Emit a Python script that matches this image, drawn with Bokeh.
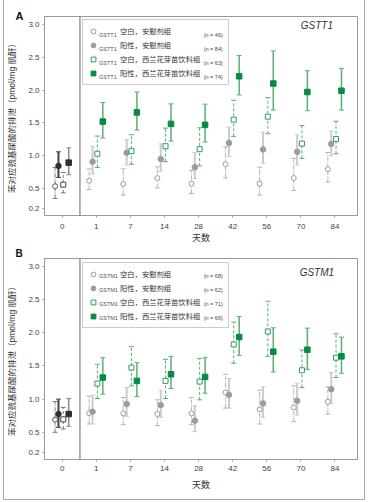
import numpy as np
from bokeh.plotting import figure
from bokeh.models import (Range1d, FixedTicker, Span, Label, Legend, LegendItem,
                          PrintfTickFormatter, Title)
from bokeh.layouts import column
from bokeh.embed import file_html
from bokeh.resources import INLINE
from bokeh.core.properties import value

# ---------------- data ----------------
days = ["0", "1", "7", "14", "28", "42", "56", "70", "84"]
y_ticks = [0.2, 0.5, 1.0, 1.5, 2.0, 2.5, 3.0]
group_names = ["空白，安慰剂组", "阳性，安慰剂组", "空白，西兰花芽苗饮料组", "阳性，西兰花芽苗饮料组"]

# Panel A: GSTT1
a_null_pl = [0.535, 0.62, 0.57, 0.66, 0.575, 0.87, 0.575, 0.66, 0.795]
a_null_pl_lo = [0.35, 0.485, 0.40, 0.51, 0.425, 0.66, 0.40, 0.47, 0.60]
a_null_pl_hi = [0.82, 0.80, 0.80, 0.83, 0.775, 1.135, 0.825, 0.96, 1.05]
a_pos_pl = [0.845, 0.91, 1.045, 0.95, 0.825, 1.195, 1.095, 1.06, 1.18]
a_pos_pl_lo = [0.67, 0.72, 0.86, 0.765, 0.65, 0.985, 0.885, 0.86, 1.00]
a_pos_pl_hi = [1.06, 1.145, 1.25, 1.18, 1.05, 1.435, 1.36, 1.32, 1.375]
a_null_bsp = [0.56, 1.03, 1.07, 1.145, 1.10, 1.55, 1.595, 1.185, 1.255]
a_null_bsp_lo = [0.435, 0.82, 0.87, 0.91, 0.845, 1.295, 1.335, 0.96, 1.03]
a_null_bsp_hi = [0.745, 1.30, 1.32, 1.42, 1.425, 1.845, 1.885, 1.46, 1.525]
a_pos_bsp = [0.895, 1.52, 1.66, 1.485, 1.47, 2.21, 2.10, 1.97, 1.99]
a_pos_bsp_lo = [0.71, 1.27, 1.39, 1.225, 1.21, 1.925, 1.695, 1.685, 1.695]
a_pos_bsp_hi = [1.12, 1.81, 1.97, 1.79, 1.785, 2.525, 2.595, 2.295, 2.33]
a_n = [46, 84, 63, 74]

# Panel B: GSTM1
b_null_pl = [0.69, 0.79, 0.785, 0.775, 0.785, 1.10, 0.845, 0.875, 0.96]
b_null_pl_lo = [0.50, 0.625, 0.615, 0.60, 0.615, 0.865, 0.625, 0.66, 0.775]
b_null_pl_hi = [0.965, 1.045, 1.025, 0.99, 1.025, 1.375, 1.135, 1.20, 1.185]
b_pos_pl = [0.775, 0.81, 0.925, 0.91, 0.675, 1.065, 0.935, 0.975, 1.15]
b_pos_pl_lo = [0.575, 0.625, 0.74, 0.725, 0.51, 0.865, 0.725, 0.76, 0.935]
b_pos_pl_hi = [1.0, 1.06, 1.175, 1.135, 0.90, 1.31, 1.185, 1.24, 1.40]
b_null_bsp = [0.695, 1.235, 1.475, 1.275, 1.265, 1.825, 2.02, 1.435, 1.625]
b_null_bsp_lo = [0.55, 1.01, 1.20, 1.01, 0.99, 1.54, 1.645, 1.175, 1.325]
b_null_bsp_hi = [0.875, 1.525, 1.79, 1.60, 1.615, 2.16, 2.475, 1.74, 1.985]
b_pos_bsp = [0.775, 1.325, 1.275, 1.375, 1.335, 1.935, 1.715, 1.745, 1.645]
b_pos_bsp_lo = [0.59, 1.075, 1.04, 1.16, 1.09, 1.66, 1.41, 1.45, 1.39]
b_pos_bsp_hi = [1.01, 1.625, 1.55, 1.645, 1.625, 2.245, 2.075, 2.07, 1.935]
b_n = [68, 62, 71, 66]

# ---------------- styling ----------------
FONT = "'Liberation Sans', 'Noto Sans CJK SC', sans-serif"
X0, X1 = -0.52, 8.66
Y0, Y1 = 0.09, 3.12
FW, FH = 316, 202
PX = FW / (X1 - X0)
PY = FH / (Y1 - Y0)


def dx(px):
    return X0 + px / PX


def dy(px):
    return Y1 - px / PY


STYLES = [
    dict(marker="circle", size=5, fill="white", line="#9c9c9c", bar="#b5b5b5", bw=1, dash="4 1 1 1", off=-0.21,
         fill0="white", line0="#555555", bar0="#7a7a7a"),
    dict(marker="circle", size=5.5, fill="#9c9c9c", line="#9c9c9c", bar="#cccccc", bw=2, dash="solid", off=-0.11,
         fill0="#2e2e2e", line0="#2e2e2e", bar0="#444444"),
    dict(marker="square", size=5, fill="white", line="#2f9e5c", bar="#53b276", bw=1, dash="3 2", off=0.03,
         fill0="white", line0="#444444", bar0="#7a7a7a"),
    dict(marker="square", size=5.5, fill="#078a43", line="#078a43", bar="#5cae78", bw=1.5, dash="solid", off=0.19,
         fill0="#2e2e2e", line0="#2e2e2e", bar0="#8a8a8a"),
]

LEG_PAD, LEG_GW, LEG_GH, LEG_STAND, LEG_LW = 4, 12, 14, 21, 104
LEG_H = 2 * LEG_PAD + 4 * LEG_GH
CONTENT_W = 362          # figure width (inside the css borders)
FRAME_LEFT = 37          # frame left inside the figure (page x 41)


def make_panel(gene, series, ns, height, top, bottom, legend_top, title_off, letter, letter_size,
               letter_standoff, xtick_standoff, xlab_standoff, styles_css):
    p = figure(width=CONTENT_W, height=height, x_range=Range1d(X0, X1), y_range=Range1d(Y0, Y1),
               output_backend="svg", toolbar_location=None,
               min_border_left=FRAME_LEFT, min_border_right=CONTENT_W - FRAME_LEFT - FW,
               min_border_top=top, min_border_bottom=bottom)
    p.styles = styles_css
    p.grid.visible = False
    p.outline_line_color = "#9a9a9a"
    p.background_fill_color = "white"
    p.border_fill_color = "white"

    for ax in (p.xaxis[0], p.yaxis[0]):
        ax.axis_line_color = "#9a9a9a"
        ax.major_tick_line_color = "#9a9a9a"
        ax.major_tick_out = 2
        ax.major_tick_in = 0
        ax.minor_tick_line_color = None
        ax.major_label_text_font_size = "8px"
        ax.major_label_text_color = "#444444"
        ax.major_label_text_font = FONT
        ax.axis_label_text_font = FONT
        ax.axis_label_text_font_size = "8.5px"
        ax.axis_label_text_font_style = "normal"
        ax.axis_label_text_color = "#333333"
    p.yaxis.ticker = FixedTicker(ticks=y_ticks)
    p.yaxis.formatter = PrintfTickFormatter(format="%.1f")
    p.yaxis.major_label_standoff = 3
    p.yaxis.axis_label_standoff = 8
    p.yaxis.axis_label = "苯对应巯基尿酸的排泄（pmol/mg 肌酐）"
    p.xaxis.ticker = FixedTicker(ticks=list(range(len(days))))
    p.xaxis.major_label_overrides = {i: d for i, d in enumerate(days)}
    p.xaxis.major_label_standoff = xtick_standoff
    p.xaxis.axis_label_standoff = xlab_standoff
    p.xaxis.axis_label = "天数"
    p.xaxis.axis_label_text_font_size = "9px"

    p.add_layout(Title(text=letter, align="left", offset=-(FRAME_LEFT - 8), standoff=letter_standoff,
                       text_font=FONT, text_font_size=letter_size, text_font_style="bold",
                       text_color="#111111"), "above")

    p.add_layout(Span(location=0.52, dimension="height", line_color="#666666", line_width=1))

    base = np.arange(len(days), dtype=float)
    marker_renderers = []
    for st, (m, lo, hi) in zip(STYLES, series):
        m, lo, hi = np.asarray(m), np.asarray(lo), np.asarray(hi)
        x = base + st["off"]
        for sel, is0 in ((slice(0, 1), True), (slice(1, None), False)):
            bar = st["bar0"] if is0 else st["bar"]
            p.segment(x0=x[sel], y0=lo[sel], x1=x[sel], y1=hi[sel], line_color=bar,
                      line_width=st["bw"], line_dash=st["dash"])
            p.scatter(x=np.concatenate([x[sel], x[sel]]), y=np.concatenate([lo[sel], hi[sel]]),
                      marker="dash", size=5, line_color=bar, line_width=1)
    for st, (m, lo, hi) in zip(STYLES, series):
        m = np.asarray(m)
        x = base + st["off"]
        p.scatter(x=x[:1], y=m[:1], marker=st["marker"], size=st["size"],
                  fill_color=st["fill0"], line_color=st["line0"], line_width=1)
        r = p.scatter(x=x[1:], y=m[1:], marker=st["marker"], size=st["size"],
                      fill_color=st["fill"], line_color=st["line"], line_width=1)
        marker_renderers.append(r)

    legend = Legend(items=[LegendItem(label=value(g), renderers=[r]) for g, r in zip(group_names, marker_renderers)],
                    location=(38, FH - legend_top - LEG_H),
                    label_text_font=FONT, label_text_font_size="7.3px", label_text_color="#333333",
                    glyph_width=LEG_GW, glyph_height=LEG_GH, label_height=LEG_GH, label_width=LEG_LW,
                    label_standoff=LEG_STAND, padding=LEG_PAD, spacing=0, margin=0,
                    border_line_color="#9a9a9a", border_line_width=1,
                    background_fill_alpha=0.0)
    p.add_layout(legend)

    for i, n in enumerate(ns):
        yy = dy(legend_top + LEG_PAD + LEG_GH / 2 + LEG_GH * i)
        p.add_layout(Label(x=dx(38 + LEG_PAD + LEG_GW + 1), y=yy, text=gene, text_baseline="middle",
                           text_font=FONT, text_font_size="5.5px", text_color="#555555", level="overlay"))
        p.add_layout(Label(x=dx(180), y=yy, text=f"(n = {n})", text_align="right", text_baseline="middle",
                           text_font=FONT, text_font_size="5.5px", text_color="#444444", level="overlay"))

    p.add_layout(Label(x=dx(275), y=dy(title_off), text=gene, text_align="center", text_baseline="middle",
                       text_font=FONT, text_font_size="10px", text_font_style="italic", text_color="#333333"))
    return p


BORDER = "1px solid #a8a8a8"
pA = make_panel("GSTT1",
                [(a_null_pl, a_null_pl_lo, a_null_pl_hi), (a_pos_pl, a_pos_pl_lo, a_pos_pl_hi),
                 (a_null_bsp, a_null_bsp_lo, a_null_bsp_hi), (a_pos_bsp, a_pos_bsp_lo, a_pos_bsp_hi)],
                a_n, height=245, top=16, bottom=27, legend_top=8, title_off=9,
                letter="A", letter_size="11px", letter_standoff=-11, xtick_standoff=6, xlab_standoff=1,
                styles_css={"border-left": BORDER, "border-right": BORDER,
                            "margin-left": "3px", "margin-right": "2px"})
pB = make_panel("GSTM1",
                [(b_null_pl, b_null_pl_lo, b_null_pl_hi), (b_pos_pl, b_pos_pl_lo, b_pos_pl_hi),
                 (b_null_bsp, b_null_bsp_lo, b_null_bsp_hi), (b_pos_bsp, b_pos_bsp_lo, b_pos_bsp_hi)],
                b_n, height=255, top=12, bottom=41, legend_top=7, title_off=14,
                letter="B", letter_size="10px", letter_standoff=0, xtick_standoff=4, xlab_standoff=6,
                styles_css={"border-left": BORDER, "border-right": BORDER, "border-bottom": BORDER,
                            "margin-left": "3px", "margin-right": "2px"})

layout = column(pA, pB)
open("out.html", "w").write(file_html(layout, INLINE))
